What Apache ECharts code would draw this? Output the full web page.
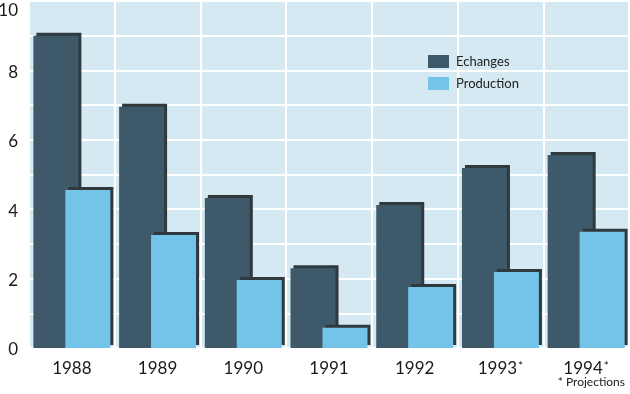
<!DOCTYPE html>
<html>
<head>
<meta charset="utf-8">
<script src="https://cdn.jsdelivr.net/npm/echarts@6/dist/echarts.min.js"></script>
<style>
html,body{margin:0;padding:0;background:#fff;}
#c{width:630px;height:394px;}
</style>
</head>
<body>
<div id="c"></div>
<script>
var categories = ['1988', '1989', '1990', '1991', '1992', '1993*', '1994*'];
var echanges = [9.0, 6.95, 4.32, 2.3, 4.12, 5.19, 5.56];
var production = [4.55, 3.26, 1.96, 0.58, 1.76, 2.19, 3.35];
var seriesNames = ['Echanges', 'Production'];
var yLabels = [0, 2, 4, 6, 8, 10];
var footnote = '* Projections';

var FONT = 'Lato, "DejaVu Sans", sans-serif';
var chart = echarts.init(document.getElementById('c'), null, {renderer: 'canvas'});
chart.setOption({
  animation: false,
  backgroundColor: '#ffffff',
  grid: {left: 29, right: 1, top: 1, bottom: 46, show: true, backgroundColor: '#d4e9f2', borderWidth: 0,
         containLabel: false, outerBoundsMode: 'none'},
  legend: {
    orient: 'vertical', left: 423, top: 50, itemWidth: 21, itemHeight: 13, itemGap: 9,
    icon: 'rect',
    textStyle: {fontFamily: FONT, fontSize: 13, color: '#222', padding: [0, 0, 0, 2]},
    data: seriesNames
  },
  xAxis: {
    type: 'category', data: categories,
    axisLine: {show: false}, axisTick: {show: false, interval: 0},
    splitLine: {show: true, interval: 0, lineStyle: {color: '#ffffff', width: 2}},
    axisLabel: {
      interval: 0, hideOverlap: false,
      margin: 12, fontFamily: FONT, fontSize: 17, color: '#1a1a1a',
      formatter: function (v) {
        if (v.indexOf('*') >= 0) return v.replace('*', '') + '{s|*}';
        return v;
      },
      rich: {s: {fontSize: 12, fontFamily: FONT, color: '#1a1a1a', verticalAlign: 'top', padding: [0, 0, 6, 1]}}
    }
  },
  yAxis: {
    type: 'value', min: 0, max: 10, interval: 1,
    axisLine: {show: false}, axisTick: {show: false},
    splitLine: {show: true, lineStyle: {color: '#ffffff', width: 2}},
    axisLabel: {
      margin: 11, fontFamily: FONT, fontSize: 17, color: '#1a1a1a',
      formatter: function (v) {
        if (yLabels.indexOf(v) < 0) return '';
        if (v === 10) return '{t|' + v + '}';
        return '{n|' + v + '}';
      },
      rich: {
        t: {fontSize: 17, fontFamily: FONT, color: '#1a1a1a', padding: [20, 0, 0, 0]},
        n: {fontSize: 17, fontFamily: FONT, color: '#1a1a1a', padding: [4, 0, 0, 0]}
      }
    }
  },
  series: [
    {
      name: seriesNames[0], type: 'bar', data: echanges, barWidth: 45, barGap: '-29%',
      itemStyle: {color: '#3e5a6a', shadowColor: '#30393e', shadowBlur: 0, shadowOffsetX: 3, shadowOffsetY: -3}
    },
    {
      name: seriesNames[1], type: 'bar', data: production, barWidth: 45,
      itemStyle: {color: '#74c4ea', shadowColor: '#30393e', shadowBlur: 0, shadowOffsetX: 3, shadowOffsetY: -3}
    }
  ],
  graphic: [{
    type: 'text', right: 5, top: 376,
    style: {text: footnote, fontFamily: FONT, fontSize: 12, fill: '#1a1a1a'}
  }]
});
</script>
</body>
</html>
